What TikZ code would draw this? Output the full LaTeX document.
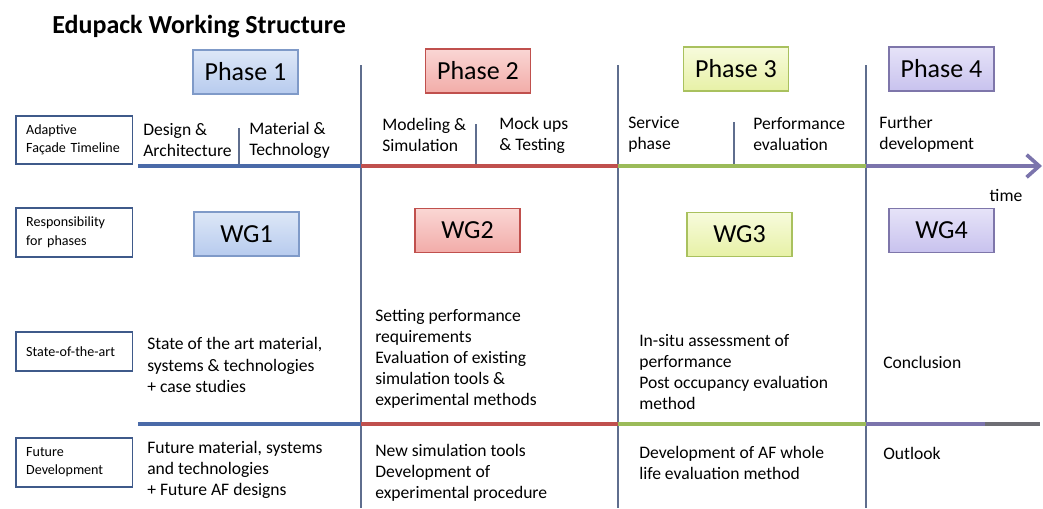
\documentclass[tikz,border=0pt]{standalone}
\usepackage{fontspec}
\setmainfont{Carlito}
\usetikzlibrary{arrows.meta, positioning}
\definecolor{p1top}{HTML}{DDE7F7}
\definecolor{p1bot}{HTML}{B7CBEE}
\definecolor{p1line}{HTML}{7F9AC8}
\definecolor{p2top}{HTML}{FAD6D4}
\definecolor{p2bot}{HTML}{F2ACA8}
\definecolor{p2line}{HTML}{C0504D}
\definecolor{p3top}{HTML}{F7FBDC}
\definecolor{p3bot}{HTML}{E7F1A6}
\definecolor{p3line}{HTML}{A9C15E}
\definecolor{p4top}{HTML}{E6E3F8}
\definecolor{p4bot}{HTML}{C8C2EE}
\definecolor{p4line}{HTML}{7E76AA}
\definecolor{tblue}{HTML}{4A6AA8}
\definecolor{tred}{HTML}{C0504D}
\definecolor{tgreen}{HTML}{9BBB59}
\definecolor{tpurple}{HTML}{7B74AC}
\definecolor{tgray}{HTML}{6E6E74}
\definecolor{rowline}{HTML}{3F5A8A}
\definecolor{vgray}{HTML}{5F6E8E}

\begin{document}
\begin{tikzpicture}[x=0.025cm, y=-0.025cm,
  phasebox/.style={rectangle, draw=#1line, line width=0.9pt, top color=#1top, bottom color=#1bot, minimum width=2.625cm, minimum height=1.1cm, font=\fontsize{18.5}{20}\selectfont},
  rowlabel/.style={rectangle, draw=rowline, line width=1.1pt, fill=white, align=left, text width=2.4cm, inner xsep=0.26cm, anchor=north west, font=\fontsize{10}{13}\selectfont},
  phaselabel/.style={align=left, anchor=west, inner sep=0pt, font=\fontsize{12.5}{15}\selectfont},
  bodytext/.style={align=left, anchor=west, inner sep=0pt, font=\fontsize{12.5}{15}\selectfont},
  tline/.style={line width=2.6pt},
  vline/.style={draw=vgray, line width=0.9pt},
  divider/.style={draw=vgray, line width=0.8pt}]
  \useasboundingbox (0,0) rectangle (1043,508);

  \node[anchor=base west, inner sep=0pt, font=\fontsize{18.5}{20}\selectfont\bfseries] (title) at (52,33) {Edupack Working Structure};

  \foreach \x in {361,618,866}
    \draw[vline] (\x,65) -- (\x,508);

  \node[phasebox=p1] (ph1) at (245.5,72) {Phase 1};
  \node[phasebox=p2] (ph2) at (478,71) {Phase 2};
  \node[phasebox=p3] (ph3) at (736,69) {Phase 3};
  \node[phasebox=p4] (ph4) at (941.5,69) {Phase 4};

  \node[rowlabel, minimum height=1.2cm] (timeline) at (15,115) {Adaptive\\Façade Timeline};
  \node[rowlabel, minimum height=1.225cm] (resp) at (15,207) {Responsibility\\for phases};
  \node[rowlabel, minimum height=0.975cm] (sota) at (15,331) {State-of-the-art};
  \node[rowlabel, minimum height=1.225cm] (future) at (15,437) {Future\\Development};

  \node[phaselabel] (design) at (143,140) {Design \&\\Architecture};
  \node[phaselabel] (material) at (249,140) {Material \&\\Technology};
  \node[phaselabel] (modeling) at (382,135) {Modeling \&\\Simulation};
  \node[phaselabel] (mockups) at (499,135) {Mock ups\\\& Testing};
  \node[phaselabel] (service) at (628,134) {Service\\phase};
  \node[phaselabel] (perf) at (753,134) {Performance\\evaluation};
  \node[phaselabel] (further) at (879,134) {Further\\development};

  \draw[divider] (239,128) -- (239,166);
  \draw[divider] (476,124) -- (476,166);
  \draw[divider] (734,122) -- (734,166);

  \foreach \xa/\xb/\col in {138/361/tblue, 361/618/tred, 618/866/tgreen}
  {
    \draw[tline, draw=\col] (\xa,166) -- (\xb,166);
    \draw[tline, draw=\col] (\xa,424) -- (\xb,424);
  }
  \draw[tline, draw=tpurple, -{Straight Barb[length=9pt, width=16pt]}] (866,166) -- (1042,166);
  \draw[tline, draw=tpurple] (866,424) -- (985,424);
  \draw[tline, draw=tgray] (985,424) -- (1040,424);

  \node[bodytext, anchor=center] (time) at (1006,195) {time};

  \node[phasebox=p1] (wg1) at (246.5,234) {WG1};
  \node[phasebox=p2] (wg2) at (467.5,230.5) {WG2};
  \node[phasebox=p3] (wg3) at (739.5,234.5) {WG3};
  \node[phasebox=p4] (wg4) at (941.5,230.5) {WG4};

  \node[bodytext] (sota1) at (147,365) {State of the art material,\\systems \& technologies\\+ case studies};
  \node[bodytext] (sota2) at (375,359) {Setting performance\\requirements\\Evaluation of existing\\simulation tools \&\\experimental methods};
  \node[bodytext] (sota3) at (639,372) {In-situ assessment of\\performance\\Post occupancy evaluation\\method};
  \node[bodytext] (sota4) at (883,362) {Conclusion};

  \node[bodytext] (fut1) at (147,470) {Future material, systems\\and technologies\\+ Future AF designs};
  \node[bodytext] (fut2) at (375,473) {New simulation tools\\Development of\\experimental procedure};
  \node[bodytext] (fut3) at (639,463) {Development of AF whole\\life evaluation method};
  \node[bodytext] (fut4) at (883,453) {Outlook};
\end{tikzpicture}
\end{document}
